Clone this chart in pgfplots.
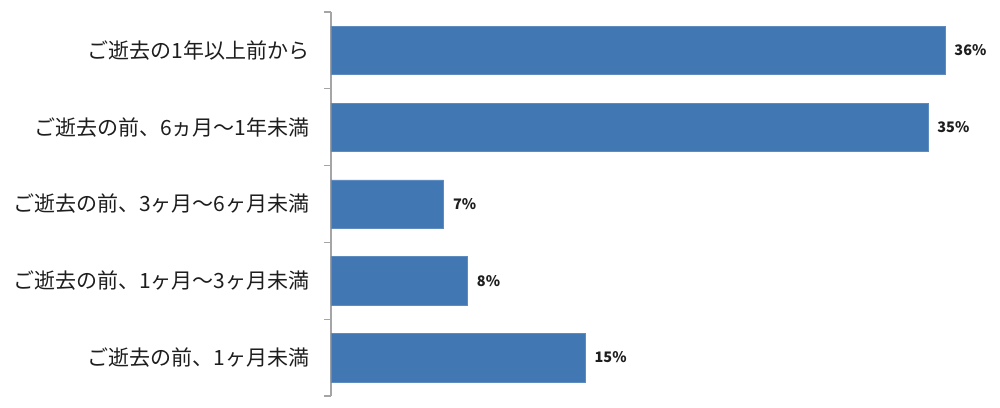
\documentclass[border=0pt]{standalone}
\usepackage{pgfplots}
\pgfplotsset{compat=1.18}
\usepackage{fontspec}
\setmainfont{Noto Sans CJK JP}
\definecolor{barblue}{RGB}{65,120,180}
\definecolor{axgray}{RGB}{165,165,165}
\definecolor{txt}{RGB}{30,30,30}
\begin{document}
\begin{tikzpicture}[x=1pt,y=1pt]
\useasboundingbox (-331,-11) rectangle (669,396);
\begin{axis}[at={(0,0)}, anchor=south west, scale only axis,
  width=648pt, height=384pt,
  xmin=0, xmax=38, ymin=-0.5, ymax=4.5, clip=false,
  axis x line=none, axis y line=left,
  y axis line style={-, axgray, line width=1.5pt},
  xbar, bar width=0.63, bar shift=0pt,
  ytick={0,1,2,3,4},
  yticklabels={{ご逝去の前、1ヶ月未満},{ご逝去の前、1ヶ月～3ヶ月未満},{ご逝去の前、3ヶ月～6ヶ月未満},{ご逝去の前、6ヵ月～1年未満},{ご逝去の1年以上前から}},
  major tick length=0pt,
  extra y ticks={-0.5,0.5,1.5,2.5,3.5,4.5}, extra y tick labels={},
  extra y tick style={major tick length=7pt, tick align=outside, tick style={axgray, line width=1.2pt}},
  yticklabel style={font=\fontsize{21}{21}\selectfont, text=txt, xshift=-18pt},
  nodes near coords, point meta=explicit symbolic,
  every node near coord/.append style={font=\fontsize{14.5}{14.5}\selectfont\bfseries, text=txt, anchor=west, xshift=6pt},
]
\addplot[fill=barblue, draw=barblue!85!white] coordinates {(36,4)[36\%] (35,3)[35\%] (6.6,2)[7\%] (8,1)[8\%] (14.9,0)[15\%]};
\end{axis}
\end{tikzpicture}
\end{document}
